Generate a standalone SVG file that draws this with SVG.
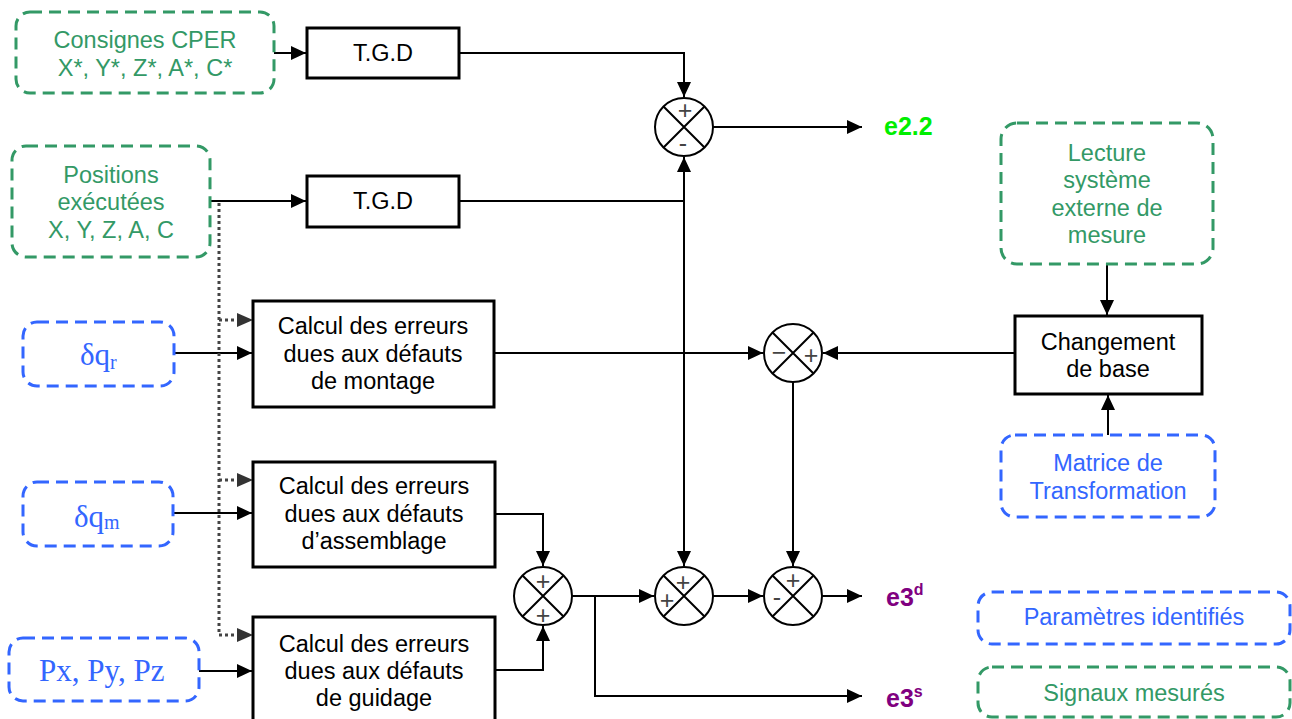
<svg xmlns="http://www.w3.org/2000/svg" width="1292" height="719" viewBox="0 0 1292 719">
<style>
text{font-family:"Liberation Sans",Arial,sans-serif;font-size:23.5px;text-anchor:middle}
.g{fill:none;stroke:#339966;stroke-width:3;stroke-dasharray:12 7}
.b{fill:none;stroke:#3366ff;stroke-width:3;stroke-dasharray:12 7}
.gt{fill:#339966}
.bt{fill:#3366ff}
.ser{font-family:"Liberation Serif","Times New Roman",serif;font-size:31px;text-anchor:start}
.blk{fill:#fff;stroke:#000;stroke-width:3}
.sum circle{fill:#fff;stroke:#000;stroke-width:2}
.sum path{stroke:#000;stroke-width:2;fill:none}
.sg{font-size:25px;fill:#444}
.c{fill:none;stroke:#000;stroke-width:2}
.d{fill:none;stroke:#444;stroke-width:3;stroke-dasharray:3 3}
.lab{font-weight:bold;font-size:25px;text-anchor:start}
</style>
<defs>
<marker id="ah" markerUnits="userSpaceOnUse" markerWidth="15" markerHeight="14" refX="15" refY="7" orient="auto">
<path d="M0,0 L15,7 L0,14 z" fill="#000"/>
</marker>
</defs>

<g id="connectors">
<path class="c" d="M274,53 H306" marker-end="url(#ah)"/>
<path class="c" d="M210,201 H306" marker-end="url(#ah)"/>
<path class="c" d="M459,53 H684 V97" marker-end="url(#ah)"/>
<path class="c" d="M459,201 H684 V157" marker-end="url(#ah)"/>
<path class="c" d="M684,201 V566" marker-end="url(#ah)"/>
<path class="c" d="M713,127 H862" marker-end="url(#ah)"/>
<path class="c" d="M174,353 H252" marker-end="url(#ah)"/>
<path class="c" d="M173,513 H252" marker-end="url(#ah)"/>
<path class="c" d="M199,671 H252" marker-end="url(#ah)"/>
<path class="c" d="M494,353 H763" marker-end="url(#ah)"/>
<path class="c" d="M1015,353 H823" marker-end="url(#ah)"/>
<path class="c" d="M1107,264 V315" marker-end="url(#ah)"/>
<path class="c" d="M1108,435 V395" marker-end="url(#ah)"/>
<path class="c" d="M793,382 V566" marker-end="url(#ah)"/>
<path class="c" d="M495,514 H543 V566" marker-end="url(#ah)"/>
<path class="c" d="M495,670 H543 V626" marker-end="url(#ah)"/>
<path class="c" d="M572,596 H654" marker-end="url(#ah)"/>
<path class="c" d="M595,596 V696 H862" marker-end="url(#ah)"/>
<path class="c" d="M713,596 H763" marker-end="url(#ah)"/>
<path class="c" d="M822,596 H862" marker-end="url(#ah)"/>
<path class="d" d="M219,203 V635 H239"/>
<path class="d" d="M219,320 H239"/>
<path class="d" d="M219,480 H239"/>
<path d="M237,313 L253,320 L237,327 z" fill="#333"/>
<path d="M237,473 L253,480 L237,487 z" fill="#333"/>
<path d="M237,628 L253,635 L237,642 z" fill="#333"/>
</g>

<g id="consignes">
<rect class="g" x="16" y="12" width="258" height="81" rx="14"/>
<text class="gt" x="145" y="48">Consignes CPER</text>
<text class="gt" x="145" y="76">X*, Y*, Z*, A*, C*</text>
</g>
<g id="positions">
<rect class="g" x="12" y="146" width="198" height="111" rx="14"/>
<text class="gt" x="111" y="183">Positions</text>
<text class="gt" x="111" y="210">exécutées</text>
<text class="gt" x="111" y="238">X, Y, Z, A, C</text>
</g>
<g id="tgd1">
<rect class="blk" x="307" y="28" width="152" height="50"/>
<text x="383" y="61">T.G.D</text>
</g>
<g id="tgd2">
<rect class="blk" x="307" y="176" width="152" height="51"/>
<text x="383" y="209">T.G.D</text>
</g>
<g id="dqr">
<rect class="b" x="23" y="322" width="151" height="64" rx="14"/>
<text class="bt ser" x="80" y="365">δq<tspan font-size="20" dy="4">r</tspan></text>
</g>
<g id="dqm">
<rect class="b" x="23" y="482" width="150" height="64" rx="14"/>
<text class="bt ser" x="74" y="527">δq<tspan font-size="20" dy="2">m</tspan></text>
</g>
<g id="pxyz">
<rect class="b" x="9" y="638" width="190" height="63" rx="14"/>
<text class="bt ser" x="39" y="681">Px, Py, Pz</text>
</g>
<g id="calc1">
<rect class="blk" x="253" y="301" width="241" height="106"/>
<text x="373" y="334">Calcul des erreurs</text>
<text x="373" y="361.5">dues aux défauts</text>
<text x="373" y="389">de montage</text>
</g>
<g id="calc2">
<rect class="blk" x="253" y="462" width="242" height="105"/>
<text x="374" y="494">Calcul des erreurs</text>
<text x="374" y="521.5">dues aux défauts</text>
<text x="374" y="549">d’assemblage</text>
</g>
<g id="calc3">
<rect class="blk" x="253" y="617" width="242" height="108"/>
<text x="374" y="652">Calcul des erreurs</text>
<text x="374" y="679">dues aux défauts</text>
<text x="374" y="706">de guidage</text>
</g>
<g id="lecture">
<rect class="g" x="1001" y="123" width="212" height="141" rx="16"/>
<text class="gt" x="1107" y="161">Lecture</text>
<text class="gt" x="1107" y="188">système</text>
<text class="gt" x="1107" y="216">externe de</text>
<text class="gt" x="1107" y="243">mesure</text>
</g>
<g id="changement">
<rect class="blk" x="1015" y="316" width="187" height="78"/>
<text x="1108" y="350">Changement</text>
<text x="1108" y="377">de base</text>
</g>
<g id="matrice">
<rect class="b" x="1001" y="435" width="214" height="82" rx="14"/>
<text class="bt" x="1108" y="471">Matrice de</text>
<text class="bt" x="1108" y="499">Transformation</text>
</g>
<g id="legend-param">
<rect class="b" x="978" y="592" width="312" height="52" rx="14"/>
<text class="bt" x="1134" y="625">Paramètres identifiés</text>
</g>
<g id="legend-signaux">
<rect class="g" x="978" y="667" width="312" height="50" rx="14"/>
<text class="gt" x="1134" y="701">Signaux mesurés</text>
</g>

<g id="sum1" class="sum">
<circle cx="684" cy="127" r="29"/>
<path d="M663.5,106.5 L704.5,147.5 M704.5,106.5 L663.5,147.5"/>
<text class="sg" x="685" y="119">+</text>
<text class="sg" x="683" y="152">-</text>
</g>
<g id="sum5" class="sum">
<circle cx="793" cy="353" r="29"/>
<path d="M772.5,332.5 L813.5,373.5 M813.5,332.5 L772.5,373.5"/>
<text class="sg" x="779" y="361">−</text>
<text class="sg" x="811" y="364">+</text>
</g>
<g id="sum2" class="sum">
<circle cx="543" cy="596" r="29"/>
<path d="M522.5,575.5 L563.5,616.5 M563.5,575.5 L522.5,616.5"/>
<text class="sg" x="543" y="590">+</text>
<text class="sg" x="543" y="624">+</text>
</g>
<g id="sum3" class="sum">
<circle cx="684" cy="596" r="29"/>
<path d="M663.5,575.5 L704.5,616.5 M704.5,575.5 L663.5,616.5"/>
<text class="sg" x="683" y="591">+</text>
<text class="sg" x="667" y="609">+</text>
</g>
<g id="sum4" class="sum">
<circle cx="793" cy="596" r="29"/>
<path d="M772.5,575.5 L813.5,616.5 M813.5,575.5 L772.5,616.5"/>
<text class="sg" x="793" y="589">+</text>
<text class="sg" x="777" y="606">-</text>
</g>

<g id="labels">
<text class="lab" x="884" y="135" fill="#00ee00">e2.2</text>
<text class="lab" x="886" y="606" fill="#800080">e3<tspan font-size="16" dy="-11">d</tspan></text>
<text class="lab" x="886" y="707" fill="#800080">e3<tspan font-size="16" dy="-10">s</tspan></text>
</g>
</svg>
